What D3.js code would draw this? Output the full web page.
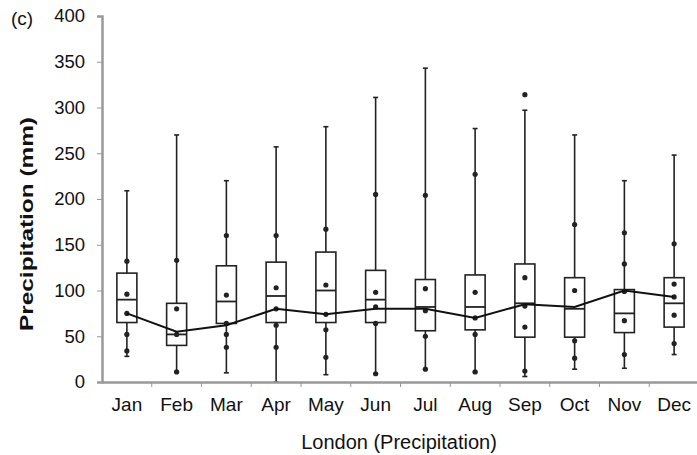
<!DOCTYPE html>
<html>
<head>
<meta charset="utf-8">
<script src="https://cdn.jsdelivr.net/npm/d3@7"></script>
<style>
  body { margin: 0; background: #fff; }
  svg { display: block; font-family: "Liberation Sans", Arial, sans-serif; }
</style>
</head>
<body>
<div id="chart"></div>
<script>
// monthly precipitation, London (mm)
const months = ['Jan', 'Feb', 'Mar', 'Apr', 'May', 'Jun', 'Jul', 'Aug', 'Sep', 'Oct', 'Nov', 'Dec'];
const whiskerHigh = [209, 270, 220, 257, 279, 311, 343, 277, 297, 270, 220, 248];
const q3 = [119, 86, 127, 131, 142, 122, 112, 117, 129, 114, 101, 114];
const median = [90, 52, 88, 94, 100, 90, 82, 82, 86, 80, 75, 86];
const q1 = [65, 40, 64, 65, 65, 65, 56, 57, 49, 49, 54, 60];
const whiskerLow = [28, 11, 10, 0, 8, 9, 14, 11, 6, 14, 15, 30];
const meanLine = [75, 55, 62, 80, 74, 80, 80, 70, 85, 82, 100, 93];
const points = [
    [132, 96, 75, 52, 34],
    [133, 80, 52, 11],
    [160, 95, 64, 52, 38],
    [160, 103, 80, 62, 38],
    [167, 106, 74, 57, 27],
    [205, 98, 82, 64, 9],
    [204, 102, 78, 50, 14],
    [227, 98, 70, 52, 11],
    [314, 114, 83, 60, 12],
    [172, 100, 45, 26],
    [163, 129, 99, 67, 30],
    [151, 107, 93, 73, 42]
];
const yTicks = [0, 50, 100, 150, 200, 250, 300, 350, 400];

const width = 697, height = 455;
const margin = { top: 16, right: -2, bottom: 73, left: 102 };
const ink = '#222';
const axisGray = '#999';
const font = '"Liberation Sans", Arial, sans-serif';

const svg = d3.select('#chart').append('svg')
    .attr('width', width)
    .attr('height', height);

const x = d3.scaleBand()
    .domain(months)
    .range([margin.left, width - margin.right]);

const y = d3.scaleLinear()
    .domain([0, 400])
    .range([height - margin.bottom, margin.top]);

const rows = months.map((m, i) => ({
    month: m, hi: whiskerHigh[i], q3: q3[i], med: median[i], q1: q1[i],
    lo: whiskerLow[i], mean: meanLine[i], pts: points[i]
}));

const cx = d => x(d.month) + x.bandwidth() / 2;
const boxW = 20;
const capW = 5;

// whiskers
const g = svg.append('g');
g.selectAll('line.whisker')
    .data(rows)
    .join('line')
    .attr('class', 'whisker')
    .attr('x1', cx)
    .attr('x2', cx)
    .attr('y1', d => y(d.hi))
    .attr('y2', d => y(d.lo))
    .attr('stroke', ink)
    .attr('stroke-width', 1.6);

['hi', 'lo'].forEach(k => {
    g.selectAll('line.cap-' + k)
        .data(rows)
        .join('line')
        .attr('class', 'cap-' + k)
        .attr('x1', d => cx(d) - capW / 2)
        .attr('x2', d => cx(d) + capW / 2)
        .attr('y1', d => y(d[k]))
        .attr('y2', d => y(d[k]))
        .attr('stroke', ink)
        .attr('stroke-width', 1.6);
});

// boxes
g.selectAll('rect.box')
    .data(rows)
    .join('rect')
    .attr('class', 'box')
    .attr('x', d => cx(d) - boxW / 2)
    .attr('width', boxW)
    .attr('y', d => y(d.q3))
    .attr('height', d => y(d.q1) - y(d.q3))
    .attr('fill', '#fff')
    .attr('stroke', ink)
    .attr('stroke-width', 1.6);

g.selectAll('line.median')
    .data(rows)
    .join('line')
    .attr('class', 'median')
    .attr('x1', d => cx(d) - boxW / 2)
    .attr('x2', d => cx(d) + boxW / 2)
    .attr('y1', d => y(d.med))
    .attr('y2', d => y(d.med))
    .attr('stroke', ink)
    .attr('stroke-width', 1.8);

// individual values
const dots = rows.flatMap(d => d.pts.map(v => ({ month: d.month, v })));
g.selectAll('circle.pt')
    .data(dots)
    .join('circle')
    .attr('class', 'pt')
    .attr('cx', cx)
    .attr('cy', d => y(d.v))
    .attr('r', 2.6)
    .attr('fill', ink);

// mean line
const line = d3.line()
    .x(cx)
    .y(d => y(d.mean));

g.append('path')
    .datum(rows)
    .attr('d', line)
    .attr('fill', 'none')
    .attr('stroke', '#111')
    .attr('stroke-width', 2);

// axes
const yAxis = svg.append('g')
    .attr('transform', `translate(${margin.left},0)`)
    .call(d3.axisLeft(y).tickValues(yTicks).tickSize(5).tickPadding(12));
yAxis.select('.domain').attr('stroke', axisGray).attr('stroke-width', 2.5);
yAxis.selectAll('.tick line').attr('stroke', axisGray);
yAxis.selectAll('.tick text')
    .attr('font-size', 18.5)
    .attr('fill', '#111')
    .attr('font-family', font);

const xAxis = svg.append('g')
    .attr('transform', `translate(0,${y(0)})`)
    .call(d3.axisBottom(x).tickSize(0).tickPadding(15.5));
xAxis.select('.domain').attr('stroke', axisGray).attr('stroke-width', 2.5);
xAxis.selectAll('.tick text')
    .attr('font-size', 19)
    .attr('fill', '#111')
    .attr('font-family', font);

// separators between months
xAxis.selectAll('line.sep')
    .data(months.slice(1))
    .join('line')
    .attr('class', 'sep')
    .attr('x1', d => x(d))
    .attr('x2', d => x(d))
    .attr('y1', 0)
    .attr('y2', 5)
    .attr('stroke', axisGray);

// labels
svg.append('text')
    .attr('transform', 'translate(33,224) rotate(-90)')
    .attr('text-anchor', 'middle')
    .attr('font-size', 19)
    .attr('font-weight', 'bold')
    .attr('fill', '#111')
    .attr('textLength', 214)
    .attr('lengthAdjust', 'spacingAndGlyphs')
    .text('Precipitation (mm)');

svg.append('text')
    .attr('x', 399)
    .attr('y', 449)
    .attr('text-anchor', 'middle')
    .attr('font-size', 20)
    .attr('fill', '#111')
    .text('London (Precipitation)');

svg.append('text')
    .attr('x', 11)
    .attr('y', 25)
    .attr('font-size', 19)
    .attr('fill', '#111')
    .text('(c)');
</script>
</body>
</html>
